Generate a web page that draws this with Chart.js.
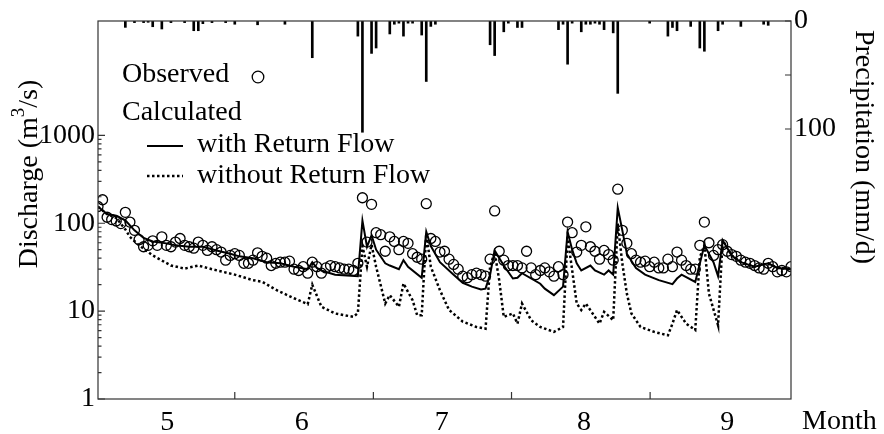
<!DOCTYPE html>
<html>
<head>
<meta charset="utf-8">
<title>Discharge and precipitation</title>
<script src="https://cdn.jsdelivr.net/npm/chart.js@4/dist/chart.umd.min.js"></script>
<style>
  html, body { margin:0; padding:0; background:#fff; }
  #chart { display:block; }
</style>
</head>
<body>
<canvas id="chart" width="884" height="434"></canvas>
<script>
// daily data, day 0 = 1 May
const $ = id => document.getElementById(id);

// observed discharge (m3/s), one value a day
const obsQ = [
  155,185,117,110,106,99,133,103,83,65,
  54,56,63,56,70,56,54,61,67,56,
  54,52,61,56,49,54,50,47,38,43,
  45,43,35,35,38,46,42,40,33,35,
  36,36,37,30,29,32,27,36,32,27,
  31,33,
  32,31,30,30,29,35,195,61,164,78,
  74,48,70,62,50,62,59,45,41,39,
  167,67,62,47,48,39,34,30,25,24,
  26,27,26,25,39,138,48,38,33,33,
  33,31,48,31,26,29,31,28,25,32,
  26,103,
  78,47,56,91,54,48,39,49,44,38,
  244,83,59,45,38,36,37,32,36,31,
  31,39,32,47,38,33,30,30,56,103,
  60,43,50,57,48,44,42,38,36,35,
  33,31,30,35,32,28,29,28,32
];

// calculated, with return flow
const withDays = [0,2,4,6,8,10,12,15,17,20,23,26,29,31,34,37,40,43,46,47,48,49,52,57,58,59,60,61,63,64,66,67,68,71,72,73,75,78,80,82,84,85,86,87,89,91,92,93,97,98,100,102,103,104,105,106,108,109,111,112,113,114,115,116,118,120,123,126,127,128,131,133,135,136,137,139,141,144,147,149,152];
const withQ = [154,127,122,108,83,68,62,59,56,54,54,49,45,42,40,36,35,32,30,36,31,29,26,25,107,54,73,50,35,33,30,38,32,24,80,55,36,26,21,19,17.6,18,26,49,33,23.5,24,27,20.5,18,15.2,19,80,50,35,29,33,29,26,29,26,150,83,45,31,26,22.5,20.3,23.5,26,21.5,56,36,25,64,43,36,32,35,31,30];

// calculated, without return flow
const withoutDays = [0,2,4,6,7,9,12,16,19,22,25,30,34,36,39,43,46,47,49,52,56,57,58,59,60,61,63,64,66,67,69,70,71,72,73,75,77,80,83,85,86,87,88,89,91,92,93,95,97,100,102,103,105,106,107,110,111,113,114,115,116,117,119,122,125,126,127,129,131,132,133,134,136,137,139,141,144,147,149,152];
const withoutQ = [154,127,115,85,70,56,43,33,30.5,33,30,26,22.5,21.6,17.5,14,12,20,11.2,9.4,8.6,9.5,55,32,57,32,12.2,15.2,11.2,20.6,13.3,9,9,76,32,17.3,10.3,7.6,6.6,6.3,32,47,22.5,8.6,9.4,7.2,12.2,7.9,6.6,5.8,6.6,70,12.2,10.3,12.2,7.2,9.8,7.9,99,35,15.8,9.4,6.6,5.8,5.3,7.2,10.3,7.2,6.1,41,56,15.8,6.9,64,43,36,32,35,31,30];

// precipitation (mm/d)
const rainDays = [6,8,10,11,12,14,16,19,21,22,23,25,28,30,35,41,47,57,58,60,61,64,65,66,67,68,69,71,72,73,74,86,87,89,90,92,93,101,102,103,104,106,107,108,109,110,111,113,114,121,125,126,127,130,132,133,136,137,141,146,147];
const rainMm = [5.9,1.5,1.5,1.2,5.3,7.4,1.5,1.5,9,9,2.5,1.5,1.5,3,3.5,3,34,14,103,30,25,12,3,2,14,2,2,13,56,5,3,22,32,10,2,6,6,8,3,40,2,10,3,3,2,3,8,11,67,2,14,6,9,5,25,28,9,3,5,3,4];

// axes
const monthLabels = ['5','6','7','8','9'];
const monthLabelDays = [15.2, 44.7, 75.4, 106.6, 138];
const monthTickDays = [30, 60.4, 90.7, 121.1];
const qMajor = [1, 10, 100, 1000];
const pTicks = [0, 50, 100];
const pLabels = [0, 100];

const FONT = "'Liberation Serif', 'Times New Roman', serif";

// log ticks: decades plus 2..9 between them
const qTicks = [];
qMajor.forEach((m, i) => {
  qTicks.push(m);
  if (i < qMajor.length - 1) for (let k = 2; k <= 9; k++) qTicks.push(k * m);
});

const pts = (xs, ys) => xs.map((x, i) => ({x, y: ys[i]}));

// frame, inward ticks, titles, legend
const extras = {
  id: 'extras',
  afterDraw(chart){
    const {ctx, chartArea:a, scales} = chart;
    ctx.save();
    ctx.strokeStyle = '#333';
    ctx.lineWidth = 1.2;
    ctx.strokeRect(a.left, a.top, a.right - a.left, a.bottom - a.top);

    ctx.beginPath();
    qTicks.forEach(v => {
      const y = scales.y.getPixelForValue(v);
      const len = qMajor.includes(v) ? 7 : 3.5;
      ctx.moveTo(a.left, y); ctx.lineTo(a.left + len, y);
    });
    pTicks.forEach(v => {
      const y = scales.y2.getPixelForValue(v);
      ctx.moveTo(a.right, y); ctx.lineTo(a.right - 6, y);
    });
    monthTickDays.forEach(v => {
      const x = scales.x.getPixelForValue(v);
      ctx.moveTo(x, a.bottom); ctx.lineTo(x, a.bottom - 7);
    });
    ctx.stroke();

    ctx.fillStyle = '#000';
    ctx.font = '28px ' + FONT;
    ctx.textBaseline = 'middle';

    // x unit
    ctx.textAlign = 'left';
    ctx.fillText('Month', 802, 422);

    // left title with superscript
    ctx.save();
    ctx.translate(30, 174);
    ctx.rotate(-Math.PI / 2);
    const parts = [['Discharge (m', 28, 0], ['3', 19, -11], ['/s)', 28, 0]];
    let w = 0;
    parts.forEach(p => { ctx.font = p[1] + 'px ' + FONT; w += ctx.measureText(p[0]).width; });
    let x0 = -w / 2;
    ctx.textAlign = 'left';
    parts.forEach(p => {
      ctx.font = p[1] + 'px ' + FONT;
      ctx.fillText(p[0], x0, p[2]);
      x0 += ctx.measureText(p[0]).width;
    });
    ctx.restore();

    // right title
    ctx.save();
    ctx.translate(863, 147);
    ctx.rotate(Math.PI / 2);
    ctx.textAlign = 'center';
    ctx.font = '28px ' + FONT;
    ctx.fillText('Precipitation (mm/d)', 0, 0);
    ctx.restore();

    // legend
    ctx.font = '28px ' + FONT;
    ctx.textAlign = 'left';
    ctx.textBaseline = 'alphabetic';
    ctx.fillText('Observed', 122, 82);
    ctx.fillText('Calculated', 122, 120);
    ctx.fillText('with Return Flow', 197, 152);
    ctx.fillText('without Return Flow', 197, 183);
    ctx.strokeStyle = '#000';
    ctx.lineWidth = 1.3;
    ctx.beginPath();
    ctx.arc(258, 77, 5.8, 0, Math.PI * 2);
    ctx.stroke();
    ctx.lineWidth = 2;
    ctx.beginPath(); ctx.moveTo(147, 146); ctx.lineTo(183, 146); ctx.stroke();
    ctx.setLineDash([2.5, 2.5]);
    ctx.lineWidth = 2.5;
    ctx.beginPath(); ctx.moveTo(147, 176); ctx.lineTo(183, 176); ctx.stroke();
    ctx.restore();
  }
};

Chart.defaults.font.family = FONT;
Chart.defaults.font.size = 28;
Chart.defaults.color = '#000';

new Chart($('chart'), {
  type: 'line',
  data: {
    datasets: [
      { label:'with Return Flow', data: pts(withDays, withQ), yAxisID:'y',
        borderColor:'#000', borderWidth:2, pointRadius:0, tension:0, order:1 },
      { label:'without Return Flow', data: pts(withoutDays, withoutQ), yAxisID:'y',
        borderColor:'#000', borderWidth:2.5, borderDash:[2.5,2.5], borderCapStyle:'butt',
        pointRadius:0, tension:0, order:1 },
      { label:'Observed', data: obsQ.map((v, i) => ({x:i, y:v})), yAxisID:'y',
        showLine:false, pointRadius:5, pointBorderWidth:1.3, pointBorderColor:'#000',
        pointBackgroundColor:'rgba(0,0,0,0)', order:2 },
      { type:'bar', label:'Precipitation', data: pts(rainDays, rainMm), yAxisID:'y2',
        backgroundColor:'#000', barThickness:2, order:3 }
    ]
  },
  options: {
    responsive:false,
    animation:false,
    devicePixelRatio:1,
    layout:{ padding:{ top:21, left:0, right:0, bottom:0 } },
    plugins:{ legend:{display:false}, tooltip:{enabled:false} },
    scales:{
      x:{
        type:'linear', min:0, max:152, offset:false,
        grid:{display:false, drawTicks:false}, border:{display:false},
        afterBuildTicks: s => { s.ticks = monthLabelDays.map(v => ({value:v})); },
        ticks:{ autoSkip:false, maxRotation:0, padding:7, callback:(v, i) => monthLabels[i] },
        afterFit: s => { s.height = 35; }
      },
      y:{
        type:'logarithmic', position:'left', min:1, max:20000,
        grid:{display:false, drawTicks:false}, border:{display:false},
        afterBuildTicks: s => { s.ticks = qTicks.map(v => ({value:v})); },
        ticks:{ autoSkip:false, padding:3, callback: v => qMajor.includes(v) ? String(v) : '' },
        afterFit: s => { s.width = 98; }
      },
      y2:{
        type:'linear', position:'right', min:0, max:350, reverse:true,
        grid:{display:false, drawTicks:false}, border:{display:false},
        afterBuildTicks: s => { s.ticks = pTicks.map(v => ({value:v})); },
        ticks:{ autoSkip:false, padding:3, callback: v => pLabels.includes(v) ? String(v) : '' },
        afterFit: s => { s.width = 93; }
      }
    }
  },
  plugins:[extras]
});
</script>
</body>
</html>
